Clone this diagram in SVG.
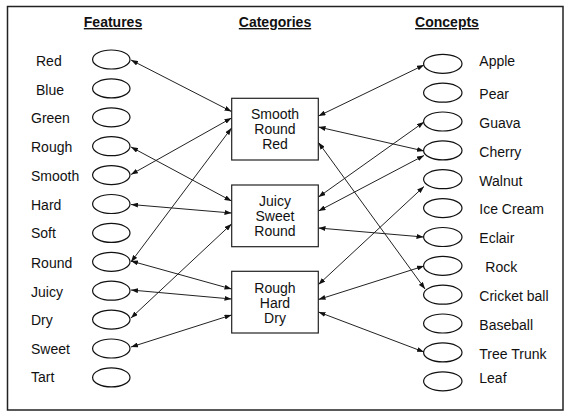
<svg xmlns="http://www.w3.org/2000/svg" width="564" height="411" viewBox="0 0 564 411">
<style>
text{font-family:"Liberation Sans",Arial,sans-serif;font-size:14px;fill:#111}
.h{font-weight:bold;text-decoration:underline;text-anchor:middle}
.c{text-anchor:middle}
.el{fill:#fff;stroke:#111;stroke-width:1.2}
.box{fill:#fff;stroke:#222;stroke-width:1.2}
.cn line{stroke:#222;stroke-width:1;marker-start:url(#ah);marker-end:url(#ah)}
</style>
<defs>
<marker id="ah" markerUnits="userSpaceOnUse" markerWidth="7" markerHeight="5" refX="7" refY="2.5" orient="auto-start-reverse" viewBox="0 0 7 5">
<path d="M0,0 L7,2.5 L0,5 z" fill="#111"/>
</marker>
</defs>
<rect x="0" y="0" width="564" height="411" fill="#fff"/>
<rect x="7.5" y="6.5" width="555.5" height="403.5" fill="none" stroke="#222" stroke-width="1.5"/>
<g id="headings">
<text class="h" x="113" y="27">Features</text>
<text class="h" x="275" y="27">Categories</text>
<text class="h" x="447" y="27">Concepts</text>
</g>
<g id="features">
<g id="f-red"><ellipse class="el" cx="111.3" cy="59.5" rx="18.7" ry="9.5"/><text x="36" y="65.7">Red</text></g>
<g id="f-blue"><ellipse class="el" cx="111.3" cy="88.4" rx="18.7" ry="9.5"/><text x="36" y="94.5">Blue</text></g>
<g id="f-green"><ellipse class="el" cx="111.3" cy="117.3" rx="18.7" ry="9.5"/><text x="31" y="123.3">Green</text></g>
<g id="f-rough"><ellipse class="el" cx="111.3" cy="146.2" rx="18.7" ry="9.5"/><text x="31" y="152">Rough</text></g>
<g id="f-smooth"><ellipse class="el" cx="111.3" cy="175.1" rx="18.7" ry="9.5"/><text x="31" y="180.8">Smooth</text></g>
<g id="f-hard"><ellipse class="el" cx="111.3" cy="204" rx="18.7" ry="9.5"/><text x="31" y="209.6">Hard</text></g>
<g id="f-soft"><ellipse class="el" cx="111.3" cy="232.9" rx="18.7" ry="9.5"/><text x="31" y="238.4">Soft</text></g>
<g id="f-round"><ellipse class="el" cx="111.3" cy="261.8" rx="18.7" ry="9.5"/><text x="31" y="267.5">Round</text></g>
<g id="f-juicy"><ellipse class="el" cx="111.3" cy="290.7" rx="18.7" ry="9.5"/><text x="31" y="296.5">Juicy</text></g>
<g id="f-dry"><ellipse class="el" cx="111.3" cy="319.6" rx="18.7" ry="9.5"/><text x="31" y="325">Dry</text></g>
<g id="f-sweet"><ellipse class="el" cx="111.3" cy="348.5" rx="18.7" ry="9.5"/><text x="31" y="354">Sweet</text></g>
<g id="f-tart"><ellipse class="el" cx="111.3" cy="377.4" rx="18.7" ry="9.5"/><text x="31" y="382.3">Tart</text></g>
</g>
<g id="categories">
<g id="cat1"><rect class="box" x="231.7" y="98.3" width="86.6" height="61.7"/><text class="c" x="275" y="119.3">Smooth</text><text class="c" x="275" y="134.3">Round</text><text class="c" x="275" y="149.3">Red</text></g>
<g id="cat2"><rect class="box" x="231.7" y="185" width="86.6" height="61.7"/><text class="c" x="275" y="206">Juicy</text><text class="c" x="275" y="221">Sweet</text><text class="c" x="275" y="236">Round</text></g>
<g id="cat3"><rect class="box" x="231.7" y="271.3" width="86.6" height="61.7"/><text class="c" x="275" y="292.5">Rough</text><text class="c" x="275" y="307.5">Hard</text><text class="c" x="275" y="322.5">Dry</text></g>
</g>
<g id="concepts">
<g id="c-apple"><ellipse class="el" cx="442.8" cy="63.8" rx="19.2" ry="9.5"/><text x="479.3" y="65.7">Apple</text></g>
<g id="c-pear"><ellipse class="el" cx="442.8" cy="92.7" rx="19.2" ry="9.5"/><text x="479.3" y="99.3">Pear</text></g>
<g id="c-guava"><ellipse class="el" cx="442.8" cy="121.5" rx="19.2" ry="9.5"/><text x="479.3" y="128.3">Guava</text></g>
<g id="c-cherry"><ellipse class="el" cx="442.8" cy="150.4" rx="19.2" ry="9.5"/><text x="479.3" y="157.3">Cherry</text></g>
<g id="c-walnut"><ellipse class="el" cx="442.8" cy="179.2" rx="19.2" ry="9.5"/><text x="479.3" y="186">Walnut</text></g>
<g id="c-icecream"><ellipse class="el" cx="442.8" cy="208.1" rx="19.2" ry="9.5"/><text x="479.3" y="214.3">Ice Cream</text></g>
<g id="c-eclair"><ellipse class="el" cx="442.8" cy="237" rx="19.2" ry="9.5"/><text x="479.3" y="243.3">Eclair</text></g>
<g id="c-rock"><ellipse class="el" cx="442.8" cy="265.8" rx="19.2" ry="9.5"/><text x="485.3" y="271.7">Rock</text></g>
<g id="c-cricket"><ellipse class="el" cx="442.8" cy="294.7" rx="19.2" ry="9.5"/><text x="479.3" y="301">Cricket ball</text></g>
<g id="c-baseball"><ellipse class="el" cx="442.8" cy="323.5" rx="19.2" ry="9.5"/><text x="479.3" y="330">Baseball</text></g>
<g id="c-treetrunk"><ellipse class="el" cx="442.8" cy="352.4" rx="19.2" ry="9.5"/><text x="479.3" y="359">Tree Trunk</text></g>
<g id="c-leaf"><ellipse class="el" cx="442.8" cy="381.3" rx="19.2" ry="9.5"/><text x="479.3" y="383.3">Leaf</text></g>
</g>
<g id="connectors" class="cn">
<line x1="131" y1="60" x2="231.5" y2="111.5"/>
<line x1="131" y1="174.5" x2="231.5" y2="118"/>
<line x1="131" y1="262" x2="231.5" y2="128"/>
<line x1="131" y1="147" x2="231.5" y2="201"/>
<line x1="131" y1="204.5" x2="231.5" y2="213"/>
<line x1="131" y1="318" x2="231.5" y2="224"/>
<line x1="131" y1="261" x2="231.5" y2="289"/>
<line x1="131" y1="290" x2="231.5" y2="299"/>
<line x1="131" y1="347" x2="231.5" y2="315"/>
<line x1="318.5" y1="116" x2="424" y2="65"/>
<line x1="318.5" y1="127" x2="424" y2="151"/>
<line x1="318.5" y1="142.5" x2="425" y2="289"/>
<line x1="318.5" y1="197" x2="424" y2="122"/>
<line x1="318.5" y1="211" x2="424" y2="155.5"/>
<line x1="318.5" y1="228" x2="423.5" y2="237"/>
<line x1="318.5" y1="284.5" x2="424" y2="186.5"/>
<line x1="318.5" y1="299.5" x2="424" y2="266"/>
<line x1="318.5" y1="312" x2="424" y2="352"/>
</g>
</svg>
